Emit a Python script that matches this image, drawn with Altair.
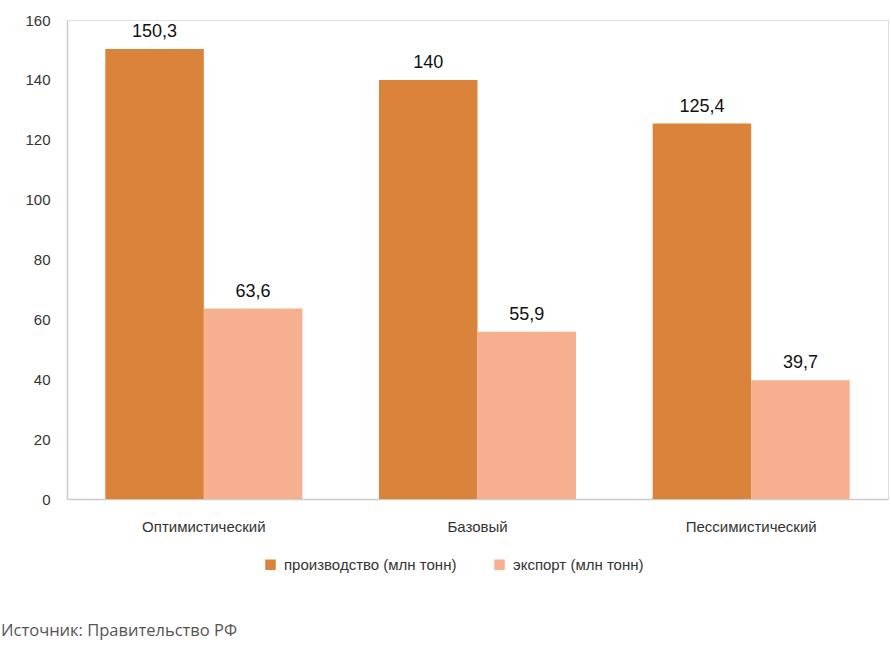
import altair as alt
import pandas as pd

scenarios = ["Оптимистический", "Базовый", "Пессимистический"]
series = ["производство (млн тонн)", "экспорт (млн тонн)"]
production = [150.3, 140.0, 125.4]
export = [63.6, 55.9, 39.7]
production_labels = ["150,3", "140", "125,4"]
export_labels = ["63,6", "55,9", "39,7"]
colors = ["#DA833A", "#F7B08F"]
source_text = "Источник: Правительство РФ"

rows = []
for i, s in enumerate(scenarios):
    rows.append({"scenario": s, "series": series[0], "value": production[i], "label": production_labels[i]})
    rows.append({"scenario": s, "series": series[1], "value": export[i], "label": export_labels[i]})
df = pd.DataFrame(rows)

FONT = "Liberation Sans"

x = alt.X("scenario:N", sort=scenarios, title=None,
          scale=alt.Scale(paddingInner=0.28, paddingOuter=0.14),
          axis=alt.Axis(labelAngle=0, ticks=False, labelPadding=20, labelFontSize=15,
                        labelColor="#333333", labelFont=FONT, domainColor="#cccccc", domainWidth=1.5))
y = alt.Y("value:Q", title=None,
          scale=alt.Scale(domain=[0, 160], nice=False),
          axis=alt.Axis(values=[0, 20, 40, 60, 80, 100, 120, 140, 160], grid=False, ticks=False,
                        labelPadding=17, labelFontSize=15, labelColor="#333333", labelFont=FONT,
                        domainColor="#cccccc", domainWidth=1.5))
xoff = alt.XOffset("series:N", sort=series)

bars = alt.Chart(df).mark_bar().encode(
    x=x, y=y, xOffset=xoff,
    color=alt.Color("series:N", sort=series, title=None,
                    scale=alt.Scale(domain=series, range=colors),
                    legend=alt.Legend(orient="none", legendX=196, legendY=537, direction="horizontal",
                                      symbolType="square", symbolSize=110, symbolStrokeWidth=0,
                                      labelFontSize=15, labelFont=FONT, labelColor="#333333",
                                      labelLimit=400, columnPadding=35, labelOffset=6)),
)

labels = alt.Chart(df).mark_text(baseline="bottom", dy=-8, fontSize=18, font=FONT, color="#111111").encode(
    x=x, y=y, xOffset=xoff, text="label:N"
)

source = alt.Chart(pd.DataFrame({"t": [source_text]})).mark_text(
    align="left", baseline="middle", fontSize=16.5, font="Open Sans", color="#555555"
).encode(x=alt.value(-66), y=alt.value(611), text="t:N")

chart = alt.layer(bars, labels, source).properties(
    width=821, height=479,
    autosize=alt.AutoSizeParams(type="none"),
    padding={"left": 67, "top": 20, "right": 3, "bottom": 148},
).configure_view(stroke=None).configure(background="white")

chart.save("out.html", embed_options={"renderer": "svg", "actions": False})
